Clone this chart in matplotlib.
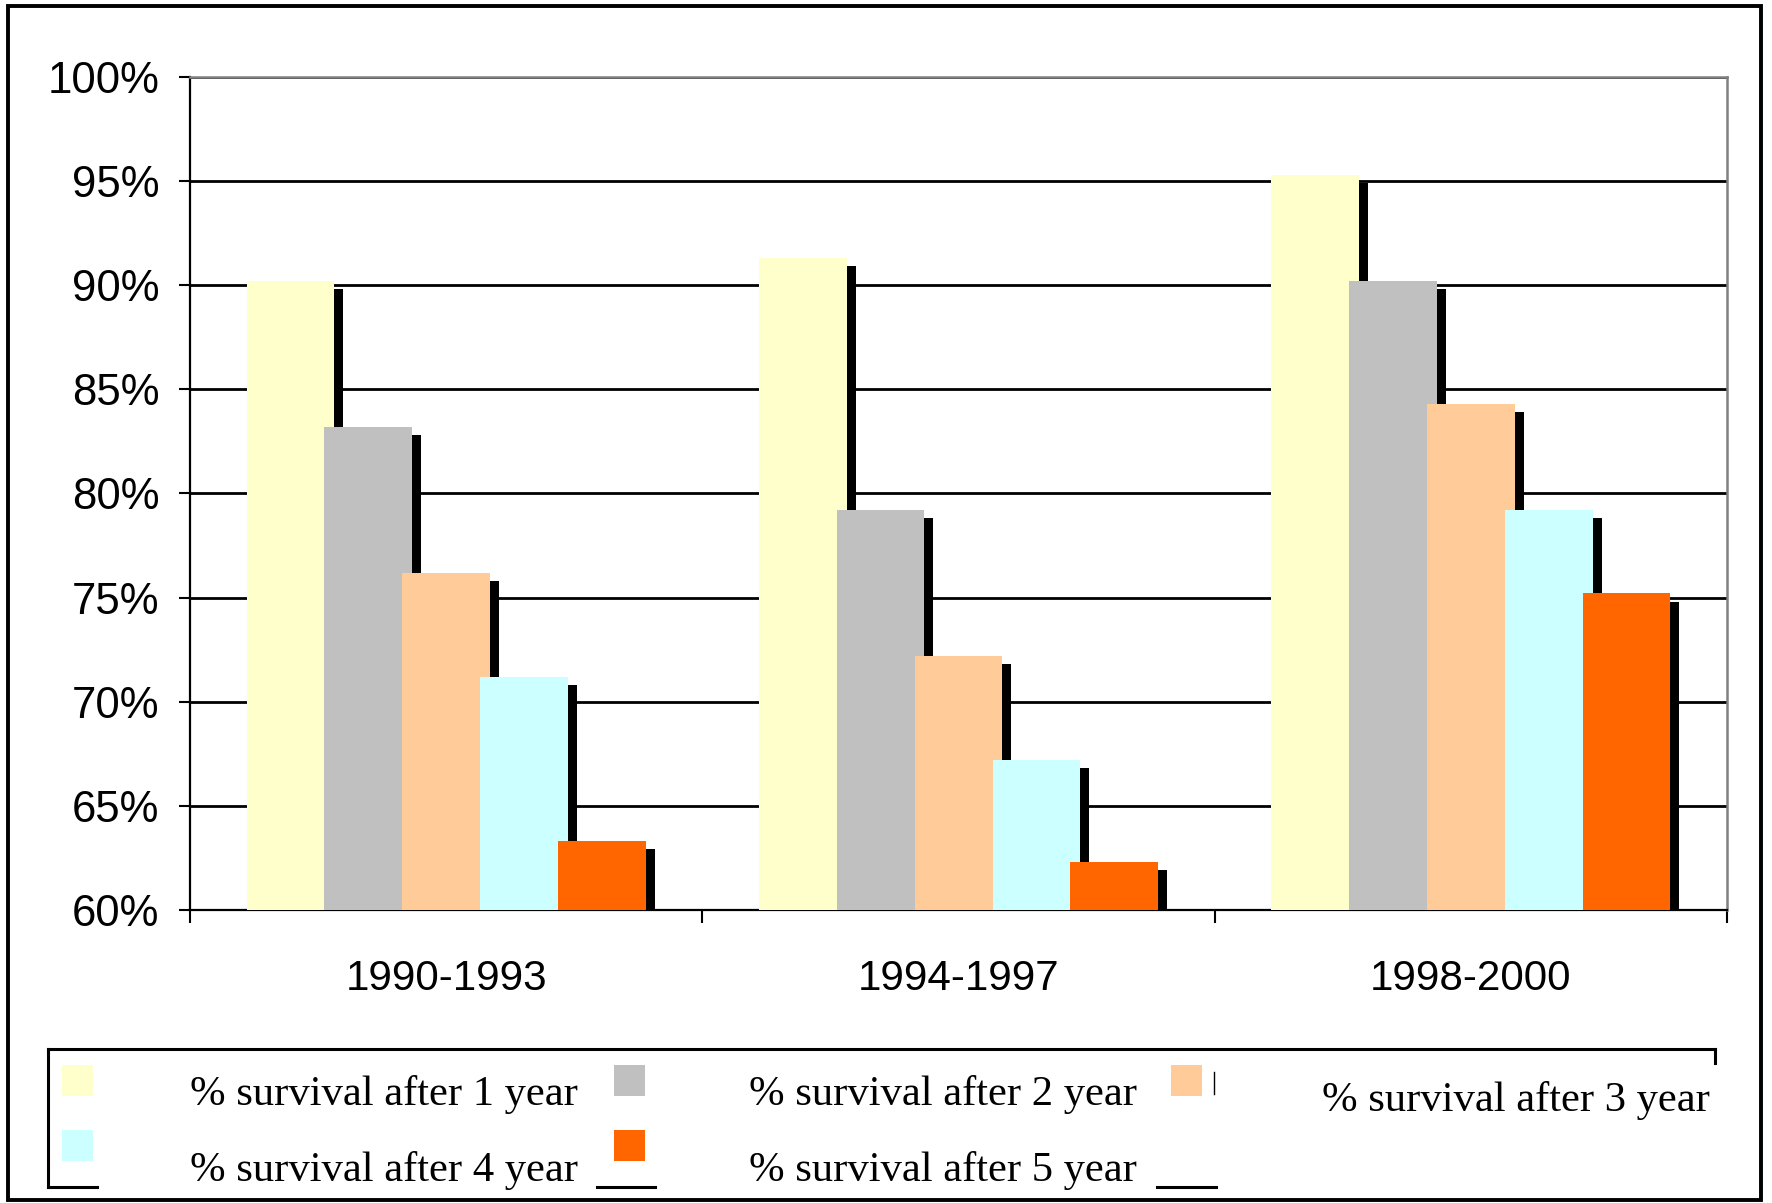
import numpy as np
import matplotlib
matplotlib.use("Agg")
import matplotlib.pyplot as plt
from matplotlib.patches import Rectangle
from matplotlib.lines import Line2D
from matplotlib.patheffects import SimplePatchShadow, Normal

periods = ["1990-1993", "1994-1997", "1998-2000"]
series = ["% survival after 1 year", "% survival after 2 year", "% survival after 3 year",
          "% survival after 4 year", "% survival after 5 year"]
after_1 = [90.2, 91.3, 95.3]
after_2 = [83.2, 79.2, 90.2]
after_3 = [76.2, 72.2, 84.3]
after_4 = [71.2, 67.2, 79.2]
after_5 = [63.3, 62.3, 75.2]
yticks = [60, 65, 70, 75, 80, 85, 90, 95, 100]

colors = ["#FFFFCC", "#C0C0C0", "#FFCC99", "#CCFFFF", "#FF6600"]
W, H = 1772, 1203

fig = plt.figure(figsize=(W / 100, H / 100), dpi=100)

def fx(x):
    return x / W

def fy(y):
    return 1 - y / H

# main plot area
ax = fig.add_axes([fx(190), fy(910), fx(1727) - fx(190), fy(77) - fy(910)])
x = np.arange(len(periods))
step, width = 0.152, 0.171
shadow = [SimplePatchShadow(offset=(6.5, -5.8), shadow_rgbFace="black", alpha=1.0), Normal()]
for i, vals in enumerate([after_1, after_2, after_3, after_4, after_5]):
    bars = ax.bar(x + (i - 2) * step, vals, width=width,
                  color=colors[i], linewidth=0, zorder=3)
    for b in bars:
        b.set_path_effects(shadow)

ax.set_xlim(-0.5, 2.5)
ax.set_ylim(60, 100)
ax.set_yticks(yticks)
ax.set_yticklabels([f"{t}%" for t in yticks], family="Liberation Sans", fontsize=31.5)
ax.set_xticks(x)
ax.set_xticklabels(periods, family="Liberation Sans", fontsize=30.3)
ax.set_xticks([-0.5, 0.5, 1.5, 2.5], minor=True)
ax.tick_params(axis="x", which="major", length=0, pad=35)
ax.tick_params(axis="x", which="minor", length=9, width=1.5, color="black")
ax.tick_params(axis="y", length=8, width=1.5, pad=14)
ax.yaxis.grid(True, color="black", linewidth=2.0)
ax.set_axisbelow(True)
for s in ["left", "bottom"]:
    ax.spines[s].set_color("black")
    ax.spines[s].set_linewidth(1.6)
for s in ["top", "right"]:
    ax.spines[s].set_color("#808080")
    ax.spines[s].set_linewidth(1.8)

# overlay for border and legend
ov = fig.add_axes([0, 0, 1, 1], zorder=-1)
ov.set_xlim(0, W)
ov.set_ylim(H, 0)
ov.axis("off")
ov.add_patch(Rectangle((8, 6), 1753, 1194, fill=False, edgecolor="black", linewidth=2.8))

leg = fig.add_axes([0, 0, 1, 1], zorder=5)
leg.set_xlim(0, W)
leg.set_ylim(H, 0)
leg.axis("off")
leg.patch.set_alpha(0)
lw = 2.2
leg.add_line(Line2D([48, 1715], [1049, 1049], color="black", linewidth=lw))
leg.add_line(Line2D([48, 48], [1049, 1187], color="black", linewidth=lw))
leg.add_line(Line2D([1715, 1715], [1049, 1063], color="black", linewidth=lw))
for x0, x1 in [(48, 97), (597, 655), (1157, 1216)]:
    leg.add_line(Line2D([x0, x1], [1187, 1187], color="black", linewidth=lw))

sw = [(62, 1065), (614, 1065), (1171, 1065), (62, 1130), (614, 1130)]
tx = [(190, 1094), (749, 1094), (1322, 1100), (190, 1171), (749, 1171)]
for i in range(5):
    leg.add_patch(Rectangle(sw[i], 31, 31, facecolor=colors[i], edgecolor="none"))
    leg.text(tx[i][0], tx[i][1], series[i], family="Liberation Serif", fontsize=30.7,
             va="center", ha="left")
leg.add_line(Line2D([1214, 1214], [1072, 1094], color="black", linewidth=1.0))

fig.savefig("out.png", dpi=100)
